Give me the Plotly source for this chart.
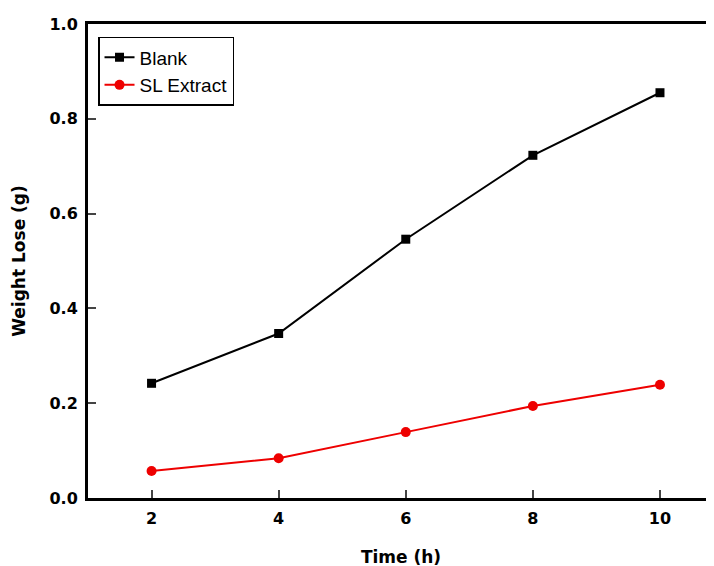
import plotly.graph_objects as go

time_h = [2, 4, 6, 8, 10]
blank = [0.242, 0.347, 0.546, 0.723, 0.855]
sl_extract = [0.057, 0.084, 0.139, 0.194, 0.239]

x_ticks = [2, 4, 6, 8, 10]
y_ticks = [0.0, 0.2, 0.4, 0.6, 0.8, 1.0]
y_tick_labels = ["0.0", "0.2", "0.4", "0.6", "0.8", "1.0"]

fig = go.Figure()
fig.add_trace(go.Scatter(x=time_h, y=blank, mode="lines+markers", name="Blank",
                         line=dict(color="black", width=2),
                         marker=dict(symbol="square", size=9, color="black")))
fig.add_trace(go.Scatter(x=time_h, y=sl_extract, mode="lines+markers", name="SL Extract",
                         line=dict(color="#ee0000", width=2),
                         marker=dict(symbol="circle", size=10, color="#ee0000")))

tick_font = dict(size=16, family="DejaVu Sans", weight="bold", color="black")
title_font = dict(size=17, family="DejaVu Sans", weight="bold", color="black")

fig.update_layout(
    width=714, height=566,
    margin=dict(l=80, r=8, t=16, b=76),
    paper_bgcolor="white", plot_bgcolor="white",
    font=dict(family="Liberation Sans, Arial, sans-serif", color="black"),
    legend=dict(x=0.016, y=0.973, xanchor="left", yanchor="top",
                bordercolor="black", borderwidth=1.5, bgcolor="white",
                font=dict(size=19, family="Liberation Sans, Arial"),
                tracegroupgap=0),
    xaxis=dict(range=[1.0, 10.85], tickvals=x_ticks, ticks="inside", ticklen=8,
               tickwidth=2, showline=True, linecolor="black", linewidth=3,
               mirror=True, showgrid=False, zeroline=False,
               tickfont=tick_font, ticklabelstandoff=4,
               title=dict(text="Time (h)", font=title_font, standoff=24)),
    yaxis=dict(range=[0, 1.0], tickvals=y_ticks, ticktext=y_tick_labels,
               ticks="inside", ticklen=8, tickwidth=2, showline=True,
               linecolor="black", linewidth=3, showgrid=False, zeroline=False,
               tickfont=tick_font, ticklabelstandoff=4,
               title=dict(text="Weight Lose (g)", font=title_font, standoff=20)),
)

fig.write_html("out.html")
